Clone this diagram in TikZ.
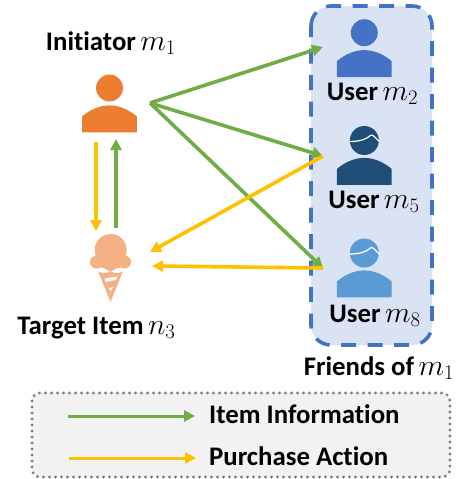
\documentclass[tikz,border=0pt]{standalone}
\usepackage{graphicx}
\usepackage{fontspec}
\setmainfont[Ligatures=CommonOff]{Carlito}
\usetikzlibrary{arrows.meta}
\definecolor{cgreen}{HTML}{70AD47}
\definecolor{cyellow}{HTML}{FFC000}
\definecolor{corange}{HTML}{ED7D31}
\definecolor{cpeach}{HTML}{F4B183}
\definecolor{cblue}{HTML}{4472C4}
\definecolor{cnavy}{HTML}{1F4E79}
\definecolor{csky}{HTML}{5B9BD5}
\definecolor{cpanel}{HTML}{DAE3F3}
\definecolor{cgrey}{HTML}{F2F2F2}
\definecolor{cdots}{HTML}{7F7F7F}
\tikzset{
  link/.style={line width=3.6pt,-{Triangle[length=11pt,width=11pt]}},
  info/.style={link,draw=cgreen},
  buy/.style={link,draw=cyellow},
  lbl/.style={inner sep=0pt,font=\fontsize{26.8}{29}\selectfont\bfseries,text=black,anchor=base},
  lbll/.style={lbl,anchor=base west},
  hair/.style={draw=white,line width=1.2pt},
}
\newcommand{\mvar}[2]{\,\scalebox{1.2}{$#1_{#2}$}}
\newcommand{\personicon}[4]{% x, y of head centre, head radius, colour
  \fill[#4] (#1,#2) circle (#3);
  \fill[#4] (#1-27.4,#2+44.4) -- (#1-27.4,#2+28.5)
    .. controls (#1-20,#2+22) and (#1-10,#2+17.4) .. (#1,#2+17.4)
    .. controls (#1+10,#2+17.4) and (#1+20,#2+22) .. (#1+27.4,#2+28.5)
    -- (#1+27.4,#2+44.4) -- cycle;
}
\newcommand{\hairline}[2]{% x,y of head centre
  \draw[hair] (#1-15,#2+1) .. controls (#1-5,#2+1) and (#1+2,#2-1) .. (#1+6,#2-5)
     .. controls (#1+9,#2-7) and (#1+11,#2-2) .. (#1+15,#2+1);
}
\begin{document}
\begin{tikzpicture}[x=1pt,y=-1pt]
\useasboundingbox (0,0) rectangle (456,479);
% friends panel
\draw[fill=cpanel,draw=cblue,line width=3.6pt,rounded corners=20pt,dash pattern=on 15pt off 11.5pt,dash phase=4pt]
  (311,6) rectangle (432,345);
% legend box
\draw[fill=cgrey,draw=cdots,line width=3.2pt,rounded corners=8pt,line cap=round,dash pattern=on 0pt off 6pt]
  (32,393) rectangle (450,477);
% icons
\personicon{109.5}{88}{13.5}{corange}
\personicon{364.3}{32.7}{13.5}{cblue}
\personicon{364.3}{140.5}{14.5}{cnavy}
\hairline{364.3}{140.5}
\personicon{364.3}{253}{14.5}{csky}
\hairline{364.3}{253}
% ice cream
\fill[cpeach] (110.7,250) circle (16);
\fill[cpeach] (96.5,262) circle (6.5) (124.5,262) circle (6.5) (110.5,263) circle (8) (103,262) circle (6) (118,262) circle (6);
\fill[cpeach] (98,271) .. controls (102,274) and (106,274) .. (110.5,271) .. controls (115,274) and (119,274) .. (123,271) -- (110.5,302) -- cycle;
\fill[white] (104.5,278.5) -- (117.5,276.5) -- (116,280) -- (105.5,282) -- cycle;
\fill[white] (108.5,288) -- (113,287) -- (111,291) -- cycle;
% named anchors
\coordinate (ini) at (150,103);
\coordinate (u2) at (323,47);
\coordinate (u5) at (323,156);
\coordinate (u8) at (323,268);
\coordinate (i5) at (150,252);
\coordinate (i8) at (152,266);
\coordinate (ydown) at (96,142);
\coordinate (ydownEnd) at (96,231);
\coordinate (gup) at (116,228);
\coordinate (gupEnd) at (116,139);
\coordinate (lg1) at (68,416);
\coordinate (lg2) at (195,416);
\coordinate (ly1) at (69,458);
\coordinate (ly2) at (196,458);
% connectors
\draw[info] (ini) -- (u2);
\draw[info] (ini) -- (u5);
\draw[info] (ini) -- (u8);
\draw[buy] (u5) -- (i5);
\draw[buy] (u8) -- (i8);
\draw[buy] (ydown) -- (ydownEnd);
\draw[info] (gup) -- (gupEnd);
\draw[info,line width=3pt] (lg1) -- (lg2);
\draw[buy,line width=3pt] (ly1) -- (ly2);
% labels
\node[lbl] (tini) at (111,50) {Initiator\mvar{m}{1}};
\node[lbl] (tu2) at (372.5,100) {User\mvar{m}{2}};
\node[lbl] (tu5) at (374,208) {User\mvar{m}{5}};
\node[lbl] (tu8) at (375,322) {User\mvar{m}{8}};
\node[lbl] (titem) at (96.5,334) {Target Item\mvar{n}{3}};
\node[lbl] (tfr) at (379,375) {Friends of\mvar{m}{1}};
\node[lbll] (tinfo) at (209,423) {Item Information};
\node[lbll] (tbuy) at (209,465) {Purchase Action};
\end{tikzpicture}
\end{document}
